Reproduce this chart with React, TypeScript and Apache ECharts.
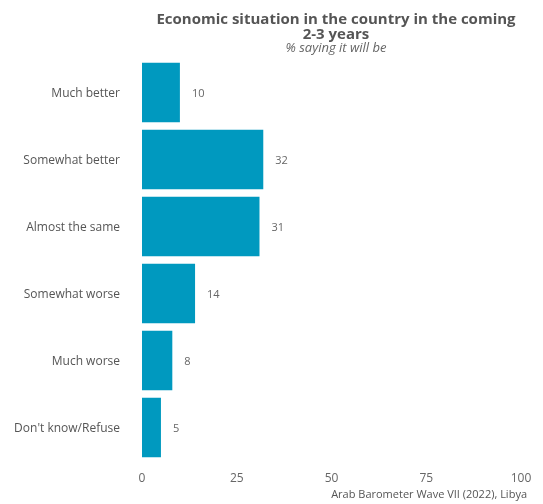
import React, { useEffect, useRef } from "react";
import * as echarts from "echarts";

const categories = ["Much better", "Somewhat better", "Almost the same", "Somewhat worse", "Much worse", "Don't know/Refuse"];
const values = [10, 32, 31, 14, 8, 5];
const xTicks = [0, 25, 50, 75, 100];

const FONT = "Open Sans";

export default function App() {
  const ref = useRef<HTMLDivElement>(null);
  useEffect(() => {
    const chart = echarts.init(ref.current!, null, { renderer: "svg" });
    chart.setOption({
      animation: false,
      textStyle: { fontFamily: FONT },
      title: {
        text: "Economic situation in the country in the coming\n2-3 years",
        subtext: "% saying it will be",
        left: 331,
        top: 5,
        textAlign: "center",
        itemGap: 0,
        textStyle: { fontSize: 15, fontWeight: "bold", color: "#555555", lineHeight: 15, fontFamily: FONT },
        subtextStyle: { fontSize: 13, fontStyle: "italic", color: "#666666", lineHeight: 13, fontFamily: FONT },
      },
      grid: { left: 142, right: 22, top: 59, bottom: 43, containLabel: false },
      xAxis: {
        type: "value",
        min: xTicks[0],
        max: xTicks[xTicks.length - 1],
        interval: 25,
        axisLine: { show: false },
        axisTick: { show: false },
        splitLine: { show: false },
        axisLabel: { color: "#666666", fontSize: 12, margin: 10, fontFamily: FONT },
      },
      yAxis: {
        type: "category",
        data: categories,
        inverse: true,
        axisLine: { show: false },
        axisTick: { show: false },
        axisLabel: { color: "#555555", fontSize: 12, margin: 22, fontFamily: FONT },
      },
      series: [
        {
          type: "bar",
          data: values,
          barCategoryGap: "11%",
          itemStyle: { color: "#0099bf" },
          label: { show: true, position: "right", distance: 12, color: "#666666", fontSize: 11, fontFamily: FONT },
        },
      ],
      graphic: [
        {
          type: "text",
          right: 16,
          top: 488,
          style: { text: "Arab Barometer Wave VII (2022), Libya", fill: "#555555", fontSize: 11, fontFamily: FONT },
        },
      ],
    });
    return () => chart.dispose();
  }, []);
  return <div ref={ref} style={{ position: "fixed", left: 0, top: 0, width: 543, height: 504 }} />;
}
